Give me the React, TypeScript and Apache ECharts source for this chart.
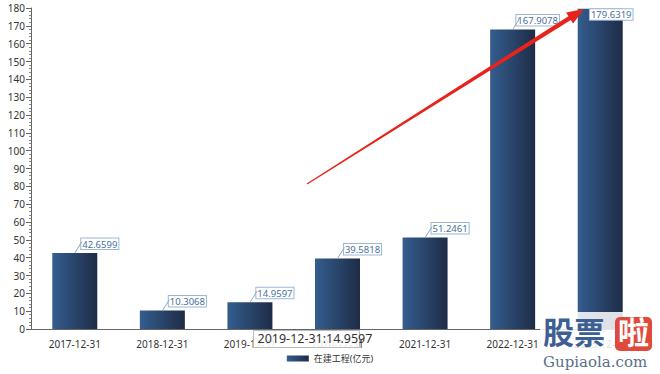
import React, { useEffect, useRef } from "react";
import * as echarts from "echarts";

const categories = ["2017-12-31", "2018-12-31", "2019-12-31", "2020-12-31", "2021-12-31", "2022-12-31", "2023-12-31"];
const values = [42.6599, 10.3068, 14.9597, 39.5818, 51.2461, 167.9078, 179.6319];
const seriesName = "在建工程(亿元)";
const tooltipText = "2019-12-31:14.9597";

function arrowPoints(x1: number, y1: number, x2: number, y2: number) {
  const dx = x2 - x1, dy = y2 - y1;
  const len = Math.sqrt(dx * dx + dy * dy);
  const ux = dx / len, uy = dy / len;
  const nx = -uy, ny = ux;
  const headLen = 17, headW = 6.5;
  const bx = x2 - ux * headLen, by = y2 - uy * headLen;
  const w0 = 0.6, w1 = 2.2;
  return [
    [x1 + nx * w0, y1 + ny * w0],
    [bx + nx * w1, by + ny * w1],
    [bx + nx * headW, by + ny * headW],
    [x2, y2],
    [bx - nx * headW, by - ny * headW],
    [bx - nx * w1, by - ny * w1],
    [x1 - nx * w0, y1 - ny * w0],
  ];
}

export default function App() {
  const ref = useRef<HTMLDivElement>(null);
  useEffect(() => {
    if (!ref.current) return;
    const chart = echarts.init(ref.current, null, { renderer: "svg" });
    const font = "'Noto Sans', 'Noto Sans CJK SC', sans-serif";
    const cjk = "'Noto Sans CJK SC', sans-serif";
    chart.setOption({
      animation: false,
      textStyle: { fontFamily: font },
      grid: { left: 31, right: 16, top: 8, bottom: 45, containLabel: false },
      legend: {
        bottom: 6,
        left: "center",
        itemWidth: 22,
        itemHeight: 6,
        icon: "rect",
        textStyle: { fontSize: 9, color: "#333", fontFamily: font },
        data: [seriesName],
      },
      xAxis: {
        type: "category",
        data: categories,
        axisLine: { lineStyle: { color: "#666" } },
        axisTick: { alignWithLabel: true, lineStyle: { color: "#666" } },
        axisLabel: { fontSize: 10, color: "#333", margin: 10 },
      },
      yAxis: {
        type: "value",
        min: 0,
        max: 180,
        interval: 10,
        axisLine: { show: true, lineStyle: { color: "#666" } },
        axisTick: { show: true, lineStyle: { color: "#666" } },
        minorTick: { show: true, splitNumber: 5, length: 2, lineStyle: { color: "#888" } },
        splitLine: { show: false },
        axisLabel: { fontSize: 10, color: "#333", margin: 6 },
      },
      series: [
        {
          name: seriesName,
          type: "bar",
          data: values,
          barWidth: 45,
          itemStyle: {
            color: new echarts.graphic.LinearGradient(0, 0, 1, 0, [
              { offset: 0, color: "#345d8f" },
              { offset: 1, color: "#1e2c46" },
            ]),
          },
          label: {
            show: true,
            position: "top",
            distance: 4,
            fontSize: 9.5,
            color: "#4a6f9c",
            backgroundColor: "#fff",
            borderColor: "#9ab8d6",
            borderWidth: 1,
            padding: [1, 1, 0, 1],
          },
          labelLayout: (p: any) => (p.dataIndex === 6 ? { dx: 11, dy: 15 } : { dx: 25, dy: 0 }),
        },
        {
          name: "leader",
          type: "custom",
          silent: true,
          z: 3,
          data: values.map((v, i) => [i, v]),
          renderItem: (params: any, api: any) => {
            if (params.dataIndex === 6) return null;
            const p = api.coord([api.value(0), api.value(1)]);
            return {
              type: "line",
              shape: { x1: p[0], y1: p[1], x2: p[0] + 7, y2: p[1] - 11 },
              style: { stroke: "#8aa9c8", lineWidth: 1 },
            };
          },
        },
      ],
      graphic: [
        {
          type: "polygon",
          shape: { points: arrowPoints(307, 184, 584, 9) },
          style: { fill: "#e8231b" },
          z: 100,
        },
        {
          type: "group",
          left: 253,
          top: 330,
          z: 100,
          children: [
            { type: "rect", z: 100, shape: { x: 0, y: 0, width: 106, height: 17 }, style: { fill: "rgba(255,255,255,0.88)", stroke: "#bbb", lineWidth: 1 } },
            { type: "text", z: 101, x: 4, y: 2, style: { text: tooltipText, fontSize: 12.5, fill: "#333", fontFamily: font } },
          ],
        },
        {
          type: "group",
          left: 540,
          top: 312,
          z: 100,
          children: [
            { type: "rect", z: 100, shape: { x: 0, y: 0, width: 120, height: 62 }, style: { fill: "rgba(255,255,255,0.85)" } },
            { type: "text", z: 101, x: 3, y: 3, style: { text: "股票", fontSize: 31, fontWeight: "bold", fill: "#3d5f92", fontFamily: cjk } },
            { type: "rect", z: 101, shape: { x: 75, y: 5, width: 37, height: 34, r: 5 }, style: { fill: "#e04a3c" } },
            { type: "text", z: 102, x: 78, y: 3, style: { text: "啦", fontSize: 31, fontWeight: "bold", fill: "#fff", fontFamily: cjk } },
            { type: "text", z: 101, x: 3, y: 42, style: { text: "Gupiaola.com", fontSize: 15, fill: "#5a6f8a", fontFamily: "'DejaVu Serif', serif" } },
          ],
        },
      ],
    });
    return () => chart.dispose();
  }, []);
  return <div ref={ref} style={{ width: 660, height: 374, position: "absolute", left: 0, top: 0 }} />;
}
